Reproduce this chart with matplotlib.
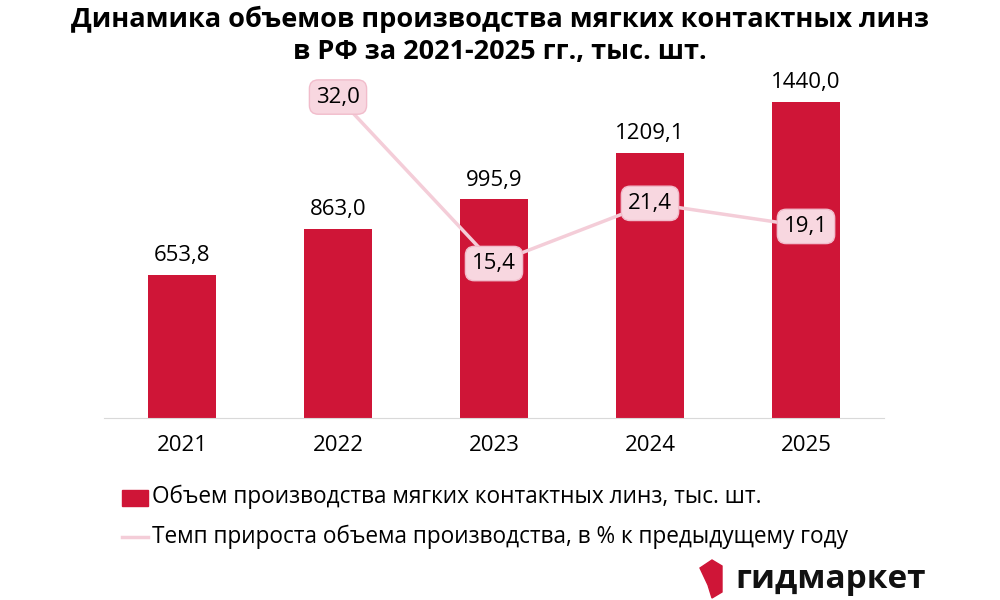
import matplotlib
matplotlib.use("Agg")
import matplotlib.pyplot as plt
from matplotlib.patches import Polygon

plt.rcParams['font.family'] = ['Open Sans', 'DejaVu Sans']

years = ["2021", "2022", "2023", "2024", "2025"]
volume = [653.8, 863.0, 995.9, 1209.1, 1440.0]
growth_years = ["2022", "2023", "2024", "2025"]
growth = [32.0, 15.4, 21.4, 19.1]

bar_color = "#cf1537"
line_color = "#f4cdd8"
box_color = "#f8d7e0"

fig = plt.figure(figsize=(10, 6), dpi=100)
ax = fig.add_axes([0.104, 1 - 418/600, 0.78, 338/600])
x = list(range(len(years)))
ax.bar(x, volume, width=0.43, color=bar_color)
for xi, v in zip(x, volume):
    ax.text(xi, v + 40, f"{v:.1f}".replace(".", ","), ha="center", va="bottom", fontsize=16)
ax.set_xlim(-0.5, 4.5)
ax.set_ylim(0, 1540)
ax.set_yticks([])
ax.set_xticks(x)
ax.set_xticklabels(years, fontsize=16)
ax.tick_params(axis="x", length=0, pad=12)
for s in ["left", "right", "top"]:
    ax.spines[s].set_visible(False)
ax.spines["bottom"].set_color("#d9d9d9")

ax2 = ax.twinx()
gx = [years.index(y) for y in growth_years]
ax2.plot(gx, growth, color=line_color, lw=2.5)
ax2.set_ylim(0, 33.7)
ax2.axis("off")
for xi, g in zip(gx, growth):
    ax2.text(xi, g, f"{g:.1f}".replace(".", ","), ha="center", va="center", fontsize=16,
             bbox=dict(boxstyle="round,pad=0.3,rounding_size=0.4", fc=box_color, ec="#f1bccb", lw=1))

fig.text(0.5, 0.99, "Динамика объемов производства мягких контактных линз\nв РФ за 2021-2025 гг., тыс. шт.",
         ha="center", va="top", fontsize=19.5, fontweight="bold", linespacing=1.3)

fig.patches.append(plt.Rectangle((0.122, 1 - 506/600), 0.026, 16/600, transform=fig.transFigure, color=bar_color))
fig.text(0.152, 1 - 497/600, "Объем производства мягких контактных линз, тыс. шт.", va="center", fontsize=16.3)
fig.lines.append(plt.Line2D([0.122, 0.148], [1 - 537/600]*2, transform=fig.transFigure, color=line_color, lw=2.5))
fig.text(0.152, 1 - 537/600, "Темп прироста объема производства, в % к предыдущему году", va="center", fontsize=16.3)

# logo
logo = Polygon([[0.700, 1-568/600], [0.712, 1-560/600], [0.722, 1-566/600], [0.722, 1-592/600],
                [0.712, 1-598/600], [0.708, 1-585/600]], closed=True, transform=fig.transFigure,
               color=bar_color)
fig.patches.append(logo)
fig.text(0.735, 1 - 580/600, "гидмаркет", va="center", fontsize=24, fontweight="bold", color="#111111")

fig.savefig("out.png", dpi=100)
